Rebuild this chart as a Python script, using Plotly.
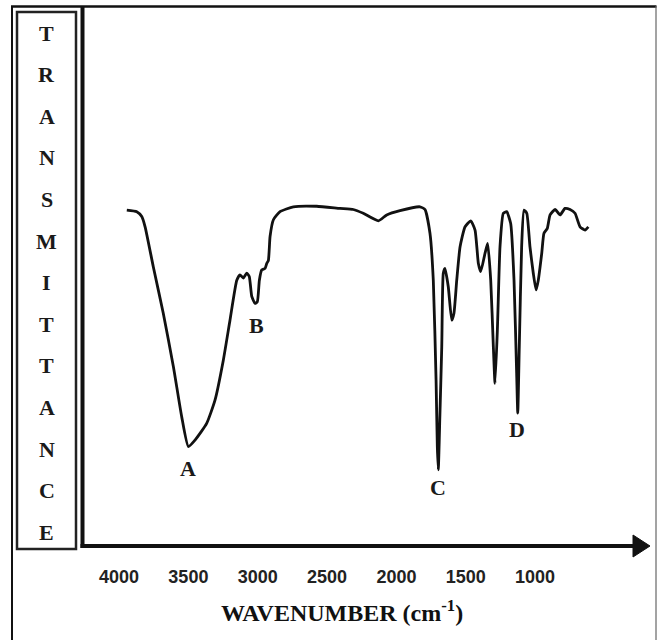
import plotly.graph_objects as go

# ---- data ----
wavenumber = [3944, 3872, 3836, 3812, 3753, 3681, 3608, 3548, 3500, 3452,
              3368, 3308, 3248, 3200, 3151, 3128, 3104, 3079, 3061, 3043,
              3019, 3003, 2988, 2971, 2947, 2935, 2923, 2911, 2887, 2839,
              2743, 2575, 2407, 2311, 2239, 2130, 2070, 1974, 1830, 1794,
              1758, 1734, 1714, 1705, 1698, 1686, 1673, 1662, 1650, 1626,
              1601, 1585, 1565, 1541, 1505, 1464, 1433, 1409, 1392, 1361,
              1342, 1320, 1301, 1289, 1272, 1253, 1229, 1205, 1176, 1152,
              1133, 1125, 1114, 1097, 1080, 1060, 1037, 1013, 993, 977,
              952, 936, 912, 892, 856, 820, 784, 748, 712, 676, 640, 616]
transmittance = [62.4, 62.1, 61.2, 59.3, 51.9, 43.3, 33.4, 24.1, 18.6, 19.8,
                 22.9, 27.2, 34.6, 42.0, 49.4, 50.4, 49.8, 50.7, 50.1, 46.4,
                 45.1, 45.4, 49.4, 51.3, 51.6, 52.5, 53.1, 57.5, 60.6, 62.1,
                 63.0, 63.1, 62.7, 62.5, 61.8, 60.4, 61.5, 62.3, 63.0, 62.5,
                 58.1, 49.4, 30.9, 18.6, 14.3, 24.8, 37.1, 50.7, 51.6, 48.2,
                 42.0, 43.3, 49.4, 55.6, 59.3, 60.4, 58.7, 52.5, 51.0, 54.4,
                 56.2, 49.4, 37.1, 30.3, 40.2, 55.6, 61.8, 62.1, 59.9, 49.4,
                 32.2, 24.8, 37.1, 55.6, 62.4, 61.8, 55.6, 50.7, 47.6, 49.4,
                 54.4, 58.1, 59.0, 61.5, 62.5, 61.5, 62.7, 62.5, 61.8, 59.3,
                 58.7, 59.3]

peak_labels = ["A", "B", "C", "D"]
peak_wn = [3500, 3007, 1700, 1133]
peak_label_T = [14.6, 41.1, 11.1, 21.7]

tick_vals = [4000, 3500, 3000, 2500, 2000, 1500, 1000]
tick_text = ["4000", "3500", "3000", "2500", "2000", "1500", "1000"]

y_title = "TRANSMITTANCE"
x_title = "WAVENUMBER (cm<sup>-1</sup>)"

# ---- figure ----
fig = go.Figure()
fig.add_trace(go.Scatter(
    x=wavenumber, y=transmittance, mode="lines",
    line=dict(color="#111111", width=2.8, shape="spline", smoothing=0.5),
    hoverinfo="skip", showlegend=False,
))

serif = "Liberation Serif, Times New Roman, serif"

for lab, wn, t in zip(peak_labels, peak_wn, peak_label_T):
    fig.add_annotation(x=wn, y=t, xref="x", yref="y", text=f"<b>{lab}</b>",
                       showarrow=False, xanchor="center", yanchor="middle",
                       font=dict(family=serif, size=22, color="#1a1a1a"))

# vertical stacked y title inside a box
L, T0, W, H = 82, 7, 568, 540
def px(xp):
    return (xp - L) / W
def py(yp):
    return (T0 + H - yp) / H

for i, ch in enumerate(y_title):
    fig.add_annotation(x=px(46.5), y=py(33 + 41.6 * i), xref="paper", yref="paper",
                       text=f"<b>{ch}</b>", showarrow=False,
                       xanchor="center", yanchor="middle",
                       font=dict(family=serif, size=22, color="#1a1a1a"))

fig.add_annotation(x=px(342), y=py(611), xref="paper", yref="paper",
                   text=f"<b>{x_title}</b>", showarrow=False,
                   xanchor="center", yanchor="middle",
                   font=dict(family=serif, size=24, color="#111111"))

shapes = [
    # outer frame
    dict(type="line", xref="paper", yref="paper", x0=px(12), x1=px(12), y0=py(6), y1=py(640),
         line=dict(color="#111111", width=2)),
    dict(type="line", xref="paper", yref="paper", x0=px(11), x1=px(656.5), y0=py(6.5), y1=py(6.5),
         line=dict(color="#111111", width=2.5)),
    dict(type="line", xref="paper", yref="paper", x0=px(656), x1=px(656), y0=py(6), y1=py(640),
         line=dict(color="#666666", width=1.2)),
    # label box
    dict(type="rect", xref="paper", yref="paper", x0=px(17), x1=px(76), y0=py(549), y1=py(12),
         line=dict(color="#222222", width=2.5)),
    # y axis line
    dict(type="line", xref="paper", yref="paper", x0=px(82.5), x1=px(82.5), y0=py(6), y1=py(548),
         line=dict(color="#111111", width=4)),
    # x axis line
    dict(type="line", xref="paper", yref="paper", x0=px(80.5), x1=px(638), y0=py(546), y1=py(546),
         line=dict(color="#111111", width=4)),
    # arrow head
    dict(type="path", xref="paper", yref="paper",
         path=f"M {px(633)} {py(535)} L {px(650)} {py(546)} L {px(633)} {py(557)} Z",
         fillcolor="#111111", line=dict(color="#111111", width=1)),
]

fig.update_layout(
    width=657, height=640,
    margin=dict(l=L, r=657 - L - W, t=T0, b=640 - T0 - H),
    paper_bgcolor="white", plot_bgcolor="white",
    shapes=shapes,
    xaxis=dict(range=[4267, 171.5], tickvals=tick_vals, ticktext=tick_text,
               showgrid=False, zeroline=False, showline=False, ticks="",
               ticklabelstandoff=17,
               tickfont=dict(family="Liberation Sans, Arial, sans-serif", size=18, color="#222222",
                             weight="bold")),
    yaxis=dict(range=[0, 100], visible=False, showgrid=False, zeroline=False),
    showlegend=False,
)

fig.write_html("out.html", config={"displayModeBar": False, "staticPlot": True},
               post_script="document.body.style.margin='0';document.body.style.overflow='hidden';")
